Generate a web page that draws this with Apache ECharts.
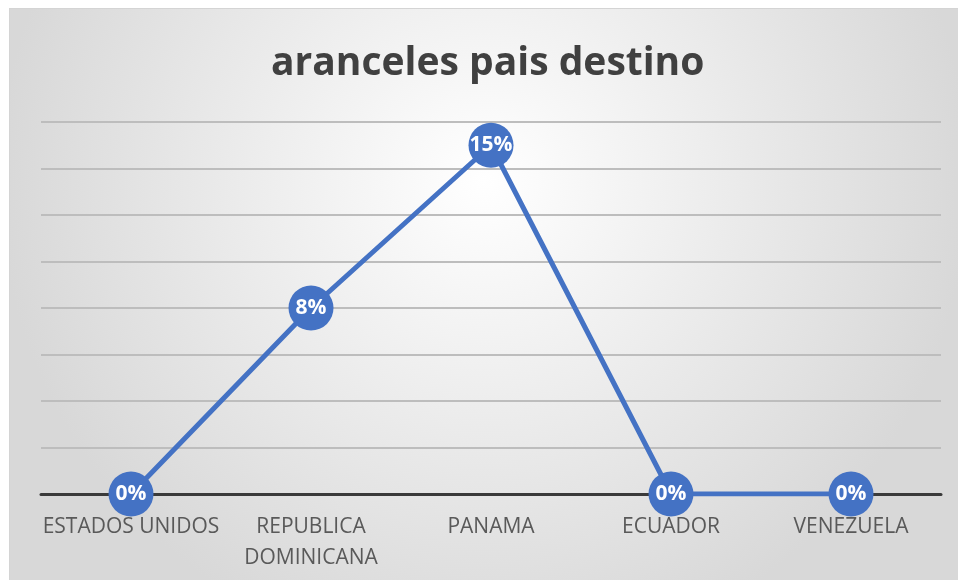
<!DOCTYPE html>
<html>
<head>
<meta charset="utf-8">
<script src="https://cdn.jsdelivr.net/npm/echarts@6/dist/echarts.min.js"></script>
<style>
  html, body { margin: 0; padding: 0; background: #ffffff; width: 965px; height: 581px; overflow: hidden; }
  #chart { position: absolute; left: 9px; top: 8px; width: 949px; height: 572px; box-sizing: border-box; border-top: 1px solid #d4d4d4; border-left: 1px solid #d4d4d4; }
</style>
</head>
<body>
<div id="chart"></div>
<script>
// Tariff by destination country
const titleText = 'aranceles pais destino';
const countries = ['ESTADOS UNIDOS', 'REPUBLICA\nDOMINICANA', 'PANAMA', 'ECUADOR', 'VENEZUELA'];
const tariffs = [0, 0.08, 0.15, 0, 0];
const yMin = 0;
const yMax = 0.16;
const yStep = 0.02;

const chart = echarts.init(document.getElementById('chart'), null, { renderer: 'canvas' });

chart.setOption({
  backgroundColor: {
    type: 'radial', x: 0.5, y: 0.3, r: 0.85,
    colorStops: [
      { offset: 0, color: '#ffffff' },
      { offset: 1, color: '#d8d8d8' }
    ]
  },
  animation: false,
  title: {
    text: titleText,
    left: 256,
    top: 30,
    textStyle: {
      fontFamily: 'Open Sans',
      fontWeight: 'bold',
      fontSize: 39,
      color: '#404040'
    }
  },
  grid: { left: 31, right: 17, top: 113, bottom: 86 },
  xAxis: {
    type: 'category',
    data: countries,
    boundaryGap: true,
    axisLine: { show: true, lineStyle: { color: '#3a3a3a', width: 3 } },
    axisTick: { show: false },
    axisLabel: {
      color: '#595959',
      fontFamily: 'Open Sans',
      fontSize: 21,
      lineHeight: 31,
      margin: 18,
      interval: 0
    }
  },
  yAxis: {
    type: 'value',
    min: yMin,
    max: yMax,
    interval: yStep,
    axisLine: { show: false },
    axisTick: { show: false },
    axisLabel: { show: false },
    splitLine: { show: true, lineStyle: { color: '#bdbdbd', width: 2 } }
  },
  series: [{
    type: 'line',
    data: tariffs,
    symbol: 'circle',
    symbolSize: 45,
    lineStyle: { color: '#4472c4', width: 5 },
    itemStyle: { color: '#4472c4' },
    label: {
      show: true,
      position: 'inside',
      color: '#ffffff',
      fontFamily: 'Open Sans',
      fontWeight: 'bold',
      fontSize: 21,
      formatter: p => Math.round(p.value * 100) + '%'
    },
    z: 5
  }]
});
</script>
</body>
</html>
